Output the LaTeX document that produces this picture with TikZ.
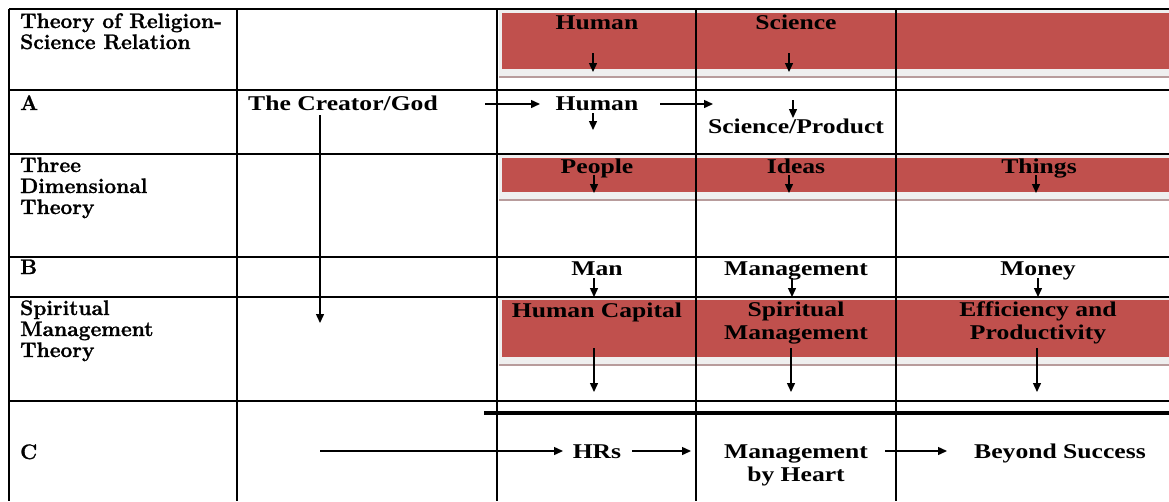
\documentclass[tikz,border=0pt]{standalone}
\usepackage{fontspec}
\usepackage{tikz}
\usetikzlibrary{arrows.meta}
\newfontfamily\cellfont[FakeStretch=1.22]{Liberation Serif}
\newfontfamily\sidefont[FakeBold=1.2]{Latin Modern Roman}
\definecolor{bandred}{HTML}{C0504D}
\definecolor{bandgray}{HTML}{EFEFEF}
\definecolor{bandline}{HTML}{B89C9C}

\tikzset{
  gridline/.style={line width=1.6pt},
  cell/.style={font=\cellfont\bfseries\fontsize{21}{22.5}\selectfont, anchor=base, inner sep=0pt, align=center},
  side/.style={font=\sidefont\bfseries\fontsize{21}{21}\selectfont, anchor=base west, inner sep=0pt, align=left},
  arr/.style={-{Triangle[length=9pt,width=8pt]}, line width=1.4pt},
}

\begin{document}
\begin{tikzpicture}[x=1pt,y=-1pt]
    \useasboundingbox (0,0) rectangle (1169,501);

    % shaded bands of the three theory rows
    \foreach \top/\bot in {13/69, 158/192, 300/357} {
        \fill[bandgray] (499,\top-3) rectangle (1169,\bot+7);
        \fill[bandred] (502,\top) rectangle (1169,\bot);
        \draw[bandline, line width=1.5pt] (499,\bot+8) -- (1169,\bot+8);
    }

    % table rules
    \foreach \y in {9,90,154,257,297,401}
        \draw[gridline] (9,\y) -- (1169,\y);
    \foreach \x in {9,237,497,696,896}
        \draw[gridline] (\x,9) -- (\x,501);
    \draw[line width=4pt] (484,413) -- (1169,413);

    % row labels (multi-line ones sit on their last baseline)
    \node[side] (relLbl) at (20,49) {Theory of Religion-\\Science Relation};
    \node[side] (aLbl) at (20,110) {A};
    \node[side] (threeLbl) at (20,214) {Three\\Dimensional\\Theory};
    \node[side] (bLbl) at (20,274) {B};
    \node[side] (spLbl) at (20,357) {Spiritual\\Management\\Theory};
    \node[side] (cLbl) at (20,459) {C};

    % cells
    \node[cell] (human1) at (597,29) {Human};
    \node[cell] (science1) at (796,29) {Science};
    \node[cell] (god) at (343,110) {The Creator/God};
    \node[cell] (human2) at (597,110) {Human};
    \node[cell] (product) at (796,133) {Science/Product};
    \node[cell] (people) at (597,173) {People};
    \node[cell] (ideas) at (796,173) {Ideas};
    \node[cell] (things) at (1039,173) {Things};
    \node[cell] (man) at (597,275) {Man};
    \node[cell] (mgmt) at (796,275) {Management};
    \node[cell] (money) at (1038,275) {Money};
    \node[cell] (capital) at (597,317) {Human Capital};
    \node[cell] (spmgmt) at (796,339) {Spiritual\\Management};
    \node[cell] (effic) at (1038,339) {Efficiency and\\Productivity};
    \node[cell] (hrs) at (597,458) {HRs};
    \node[cell] (heart) at (796,481) {Management\\by Heart};
    \node[cell] (beyond) at (1060,458) {Beyond Success};

    % arrows: name / start / end
    \foreach \n/\ax/\ay/\bx/\by in {
        humanDn/593/53/593/72, scienceDn/789/53/789/72,
        godRt/485/104/540/104, humanRt/660/104/713/104,
        human2Dn/593/113/593/130, productDn/793/100/793/118,
        godDn/320/115/320/323,
        peopleDn/594/175/594/193, ideasDn/789/175/789/193, thingsDn/1036/175/1036/193,
        manDn/594/278/594/297, mgmtDn/792/278/792/297, moneyDn/1038/278/1038/297,
        capitalDn/594/348/594/392, spmgmtDn/791/348/791/392, efficDn/1037/348/1037/392,
        hrsIn/320/451/563/451, hrsRt/632/451/691/451, heartRt/885/451/947/451} {
        \coordinate (\n-a) at (\ax,\ay);
        \coordinate (\n-b) at (\bx,\by);
        \draw[arr] (\n-a) -- (\n-b);
    }
\end{tikzpicture}
\end{document}
